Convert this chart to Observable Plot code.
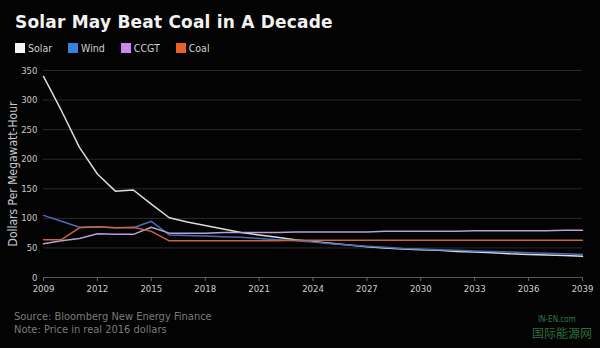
<!DOCTYPE html>
<html>
<head>
<meta charset="utf-8">
<script src="https://cdn.jsdelivr.net/npm/d3@7"></script>
<script src="https://cdn.jsdelivr.net/npm/@observablehq/plot@0.6"></script>
<style>
  html, body { margin: 0; padding: 0; background: #000; }
  #wrap { position: relative; width: 600px; height: 348px; background: #030303; overflow: hidden; font-family: "DejaVu Sans Condensed", "DejaVu Sans", sans-serif; }
  #title { position: absolute; left: 15px; top: 12px; color: #f2f2f2; font: bold 17px "DejaVu Sans", sans-serif; letter-spacing: 0.2px; }
  #legend { position: absolute; left: 15px; top: 42px; display: flex; color: #d0d0d0; font-size: 10.5px; }
  #legend .item { display: flex; align-items: center; margin-right: 16px; }
  #legend .sw { width: 10px; height: 10px; margin-right: 3px; }
  #chart { position: absolute; left: 0; top: 60px; }
  .foot { position: absolute; left: 14px; color: #7a7a7a; font-size: 11px; line-height: 12px; white-space: nowrap; }
  #wm1 { position: absolute; left: 538px; top: 315px; color: #2f7a45; font-size: 8px; line-height: 9px; }
  #wm2 { position: absolute; left: 532px; top: 326px; color: #2d6e40; font-family: "Noto Sans CJK SC", sans-serif; font-size: 12px; line-height: 14px; }
</style>
</head>
<body>
<div id="wrap">
  <div id="title"></div>
  <div id="legend"></div>
  <div id="chart"></div>
  <div class="foot" id="src" style="top:311px"></div>
  <div class="foot" id="note" style="top:324px"></div>
  <div id="wm1">IN-EN.com</div>
  <div id="wm2">国际能源网</div>
</div>
<script>
const titleText = "Solar May Beat Coal in A Decade";
const sourceText = "Source: Bloomberg New Energy Finance";
const noteText = "Note: Price in real 2016 dollars";
const yLabel = "Dollars Per Megawatt-Hour";

const seriesNames = ["Solar", "Wind", "CCGT", "Coal"];
const swatchColors = ["#f4f4f4", "#3a80e0", "#c58cf0", "#e8602a"];
const lineColors = ["#dcdcdc", "#4a6cb8", "#b8a0d8", "#c8643e"];

const years = d3.range(2009, 2040);
const solar = [340, 282, 220, 175, 146, 148, 124, 101, 94, 88, 82, 76, 72, 68, 64, 61, 58, 55, 52, 50, 48, 47, 46, 44, 43, 42, 40, 39, 38, 37, 36];
const wind  = [105, 95, 85, 86, 84, 84, 95, 72, 71, 70, 69, 68, 66, 64, 62, 60, 57, 55, 53, 51, 49, 48, 47, 46, 45, 44, 43, 42, 41, 40, 39];
const ccgt  = [57, 62, 66, 74, 73, 73, 85, 75, 75, 75, 76, 76, 76, 76, 77, 77, 77, 77, 77, 78, 78, 78, 78, 78, 79, 79, 79, 79, 79, 80, 80];
const coal  = [64, 64, 84, 86, 84, 85, 78, 62, 62, 62, 62, 62, 62, 62, 63, 63, 63, 63, 63, 63, 63, 63, 63, 63, 63, 63, 63, 63, 63, 63, 63];
const yTicks = [0, 50, 100, 150, 200, 250, 300, 350];
const xTicks = [2009, 2012, 2015, 2018, 2021, 2024, 2027, 2030, 2033, 2036, 2039];

document.getElementById("title").textContent = titleText;
document.getElementById("src").textContent = sourceText;
document.getElementById("note").textContent = noteText;
const leg = document.getElementById("legend");
seriesNames.forEach((n, i) => {
  const it = document.createElement("div"); it.className = "item";
  const sw = document.createElement("div"); sw.className = "sw"; sw.style.background = swatchColors[i];
  const t = document.createElement("span"); t.textContent = n;
  it.appendChild(sw); it.appendChild(t); leg.appendChild(it);
});

const vals = [solar, wind, ccgt, coal];
const data = [];
seriesNames.forEach((n, i) => years.forEach((y, j) => data.push({series: n, year: y, value: vals[i][j]})));

const chart = Plot.plot({
  width: 600,
  height: 240,
  marginLeft: 43,
  marginRight: 18,
  marginTop: 10,
  marginBottom: 23,
  style: { background: "transparent", color: "#c8c8c8", fontFamily: "DejaVu Sans Condensed, DejaVu Sans, sans-serif", fontSize: "9.5px" },
  x: { domain: [2009, 2039] },
  y: { domain: [0, 350] },
  color: { domain: seriesNames, range: lineColors },
  marks: [
    Plot.gridY(yTicks, { stroke: "#2a2a2a", strokeOpacity: 1, strokeWidth: 1 }),
    Plot.ruleY([0], { stroke: "#555" }),
    Plot.axisY(yTicks, { tickSize: 0, tickPadding: 6, label: null, fill: "#c8c8c8", fontSize: 9.5 }),
    Plot.axisY({ ticks: [], label: yLabel, labelAnchor: "center", labelArrow: "none", labelOffset: 35, fill: "#c8c8c8", fontSize: 12, tickSize: 0 }),
    Plot.axisX(xTicks, { tickSize: 4, tickPadding: 4, tickFormat: d3.format("d"), label: null, stroke: "#666", fill: "#d0d0d0", fontSize: 9.5 }),
    Plot.line(data, { x: "year", y: "value", z: "series", stroke: "series", strokeWidth: 1.5, curve: "linear" })
  ]
});
document.getElementById("chart").appendChild(chart);
</script>
</body>
</html>
